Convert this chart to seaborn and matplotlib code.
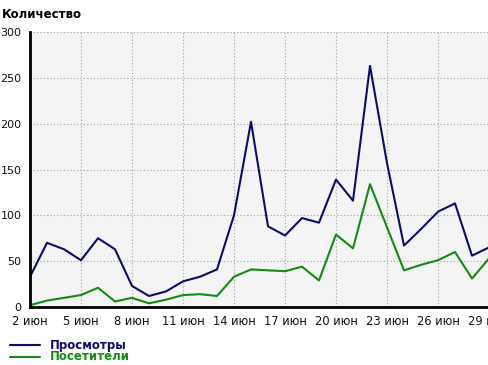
import matplotlib
matplotlib.use("Agg")
import matplotlib.pyplot as plt
import seaborn as sns
import pandas as pd

days = list(range(2, 30))
views = [33, 70, 63, 51, 75, 63, 23, 12, 17, 28, 33, 41, 100, 202, 88, 78, 97, 92,
         139, 116, 263, 157, 67, 85, 104, 113, 56, 65]
visitors = [2, 7, 10, 13, 21, 6, 10, 4, 8, 13, 14, 12, 33, 41, 40, 39, 44, 29,
            79, 64, 134, 87, 40, 46, 51, 60, 31, 53]
series_names = ["Просмотры", "Посетители"]
tick_days = [2, 5, 8, 11, 14, 17, 20, 23, 26, 29]
tick_labels = [f"{d} июн" for d in tick_days]
y_ticks = [0, 50, 100, 150, 200, 250, 300]

df = pd.DataFrame({
    "day": days * 2,
    "value": views + visitors,
    "series": [series_names[0]] * len(days) + [series_names[1]] * len(days),
})

sns.set_style("white")
plt.rcParams["font.family"] = ["DejaVu Sans"]

colors = {series_names[0]: "#0c0c6e", series_names[1]: "#128c12"}

fig = plt.figure(figsize=(4.88, 3.65), dpi=100)
ax = fig.add_axes([30 / 488, 58 / 365, 459 / 488, 275 / 365])
ax.set_facecolor("#f4f4f4")

sns.lineplot(data=df, x="day", y="value", hue="series", palette=colors,
             linewidth=1.5, ax=ax, legend=False)

ax.set_xlim(2, 29)
ax.set_ylim(0, 300)
ax.set_xticks(tick_days)
ax.set_xticklabels(tick_labels)
ax.set_yticks(y_ticks)
ax.set_xlabel("")
ax.set_ylabel("")
ax.grid(True, color="#a0a0a0", linestyle=(0, (1, 2)), linewidth=0.8)
for s in ["top", "right"]:
    ax.spines[s].set_visible(False)
for s in ["left", "bottom"]:
    ax.spines[s].set_color("black")
    ax.spines[s].set_linewidth(2)
ax.tick_params(axis="both", which="both", direction="out", length=4, width=1,
               color="black", labelsize=8, pad=2, labelcolor="#111111")
ax.tick_params(axis="x", labelsize=8.3)

fig.text(2 / 488, 1 - 15 / 365, "Количество", fontsize=8.5, fontweight="bold",
         ha="left", va="center", color="black")

# legend
for i, name in enumerate(series_names):
    yy = 1 - (345 + 12 * i) / 365
    fig.add_artist(plt.Line2D([10 / 488, 40 / 488], [yy, yy], color=colors[name],
                              linewidth=1.5, transform=fig.transFigure))
    fig.text(50 / 488, yy, name, fontsize=8.5, fontweight="bold", color=colors[name],
             ha="left", va="center")

fig.savefig("out.png", dpi=100)
